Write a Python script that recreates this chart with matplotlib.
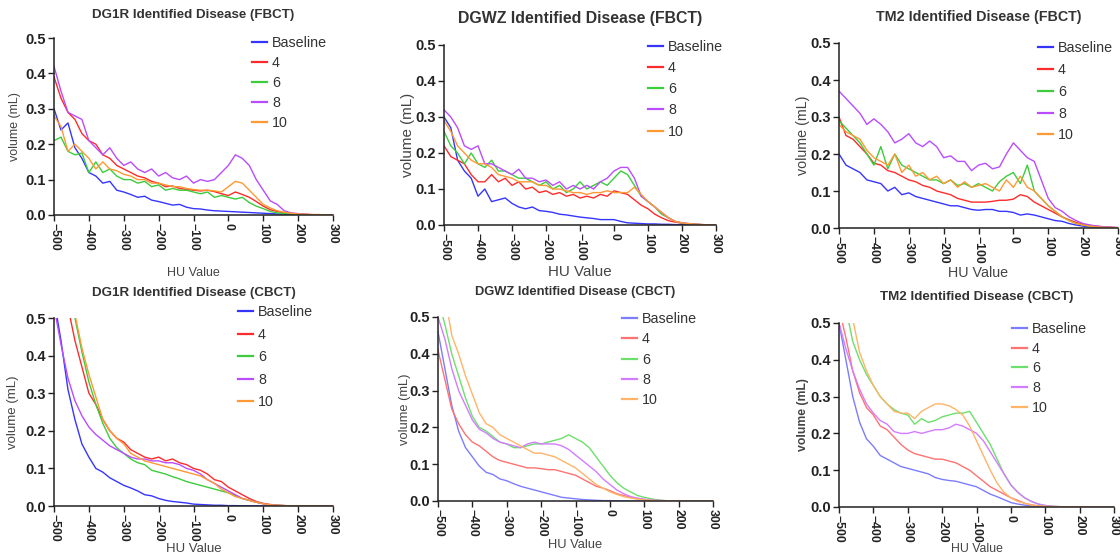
import matplotlib
matplotlib.use("Agg")
import matplotlib.pyplot as plt

plt.rcParams["font.family"] = ["Liberation Sans", "DejaVu Sans"]

# HU bins (20 HU step)
hu = list(range(-500, 301, 20))
series_names = ["Baseline", "4", "6", "8", "10"]

# ---- FBCT ----
dg1r_fbct = [
    [0.30, 0.24, 0.26, 0.19, 0.16, 0.12, 0.11, 0.09, 0.095, 0.07, 0.065, 0.058, 0.05, 0.053, 0.042, 0.038, 0.033, 0.028, 0.03, 0.022, 0.018, 0.017, 0.014, 0.012, 0.011, 0.010, 0.009, 0.008, 0.007, 0.006, 0.005, 0.004, 0.003, 0.002, 0.002, 0.001, 0.001, 0.0005, 0.0005, 0.0003, 0.0002],
    [0.39, 0.33, 0.29, 0.27, 0.23, 0.21, 0.20, 0.17, 0.16, 0.14, 0.13, 0.12, 0.11, 0.105, 0.095, 0.09, 0.08, 0.082, 0.075, 0.072, 0.07, 0.068, 0.07, 0.066, 0.06, 0.055, 0.065, 0.058, 0.05, 0.038, 0.025, 0.015, 0.01, 0.006, 0.004, 0.003, 0.002, 0.001, 0.001, 0.0005, 0.0003],
    [0.21, 0.22, 0.18, 0.17, 0.175, 0.12, 0.15, 0.12, 0.13, 0.11, 0.10, 0.10, 0.09, 0.095, 0.08, 0.085, 0.07, 0.075, 0.07, 0.07, 0.065, 0.06, 0.065, 0.05, 0.055, 0.05, 0.045, 0.05, 0.035, 0.025, 0.018, 0.01, 0.006, 0.004, 0.003, 0.002, 0.001, 0.001, 0.0005, 0.0003, 0.0002],
    [0.42, 0.35, 0.29, 0.28, 0.27, 0.21, 0.19, 0.17, 0.19, 0.16, 0.14, 0.15, 0.13, 0.12, 0.13, 0.11, 0.12, 0.105, 0.10, 0.11, 0.09, 0.10, 0.095, 0.10, 0.12, 0.14, 0.17, 0.16, 0.14, 0.10, 0.07, 0.04, 0.03, 0.012, 0.006, 0.004, 0.002, 0.001, 0.001, 0.0005, 0.0003],
    [0.28, 0.25, 0.18, 0.20, 0.18, 0.16, 0.13, 0.15, 0.13, 0.125, 0.115, 0.11, 0.10, 0.10, 0.09, 0.09, 0.085, 0.08, 0.08, 0.075, 0.072, 0.07, 0.07, 0.068, 0.065, 0.08, 0.095, 0.09, 0.07, 0.05, 0.03, 0.02, 0.012, 0.008, 0.005, 0.003, 0.002, 0.001, 0.001, 0.0005, 0.0003],
]
dgwz_fbct = [
    [0.30, 0.27, 0.18, 0.15, 0.13, 0.08, 0.10, 0.065, 0.07, 0.075, 0.06, 0.05, 0.045, 0.05, 0.04, 0.038, 0.035, 0.03, 0.028, 0.025, 0.022, 0.02, 0.018, 0.015, 0.015, 0.015, 0.01, 0.006, 0.005, 0.004, 0.003, 0.003, 0.002, 0.002, 0.001, 0.001, 0.001, 0.0005, 0.0005, 0.0003, 0.0002],
    [0.22, 0.19, 0.18, 0.17, 0.14, 0.12, 0.12, 0.14, 0.12, 0.13, 0.11, 0.12, 0.10, 0.105, 0.09, 0.095, 0.085, 0.09, 0.08, 0.085, 0.075, 0.08, 0.075, 0.085, 0.08, 0.095, 0.09, 0.085, 0.07, 0.055, 0.045, 0.03, 0.02, 0.012, 0.008, 0.005, 0.003, 0.002, 0.001, 0.0005, 0.0003],
    [0.26, 0.22, 0.20, 0.17, 0.20, 0.17, 0.16, 0.18, 0.15, 0.15, 0.14, 0.13, 0.13, 0.12, 0.11, 0.12, 0.10, 0.11, 0.09, 0.10, 0.12, 0.10, 0.11, 0.12, 0.11, 0.13, 0.15, 0.14, 0.11, 0.08, 0.065, 0.05, 0.03, 0.02, 0.01, 0.005, 0.003, 0.002, 0.001, 0.0005, 0.0003],
    [0.32, 0.30, 0.27, 0.22, 0.21, 0.22, 0.17, 0.17, 0.16, 0.15, 0.14, 0.155, 0.13, 0.13, 0.12, 0.125, 0.11, 0.12, 0.10, 0.11, 0.10, 0.11, 0.10, 0.12, 0.13, 0.15, 0.16, 0.16, 0.13, 0.08, 0.065, 0.05, 0.035, 0.02, 0.01, 0.006, 0.004, 0.002, 0.001, 0.0005, 0.0003],
    [0.29, 0.26, 0.22, 0.20, 0.18, 0.17, 0.17, 0.16, 0.14, 0.135, 0.13, 0.12, 0.12, 0.12, 0.11, 0.11, 0.10, 0.10, 0.095, 0.09, 0.09, 0.085, 0.09, 0.09, 0.095, 0.09, 0.09, 0.09, 0.105, 0.085, 0.065, 0.05, 0.035, 0.02, 0.01, 0.006, 0.004, 0.002, 0.001, 0.0005, 0.0003],
]
tm2_fbct = [
    [0.20, 0.17, 0.16, 0.15, 0.13, 0.125, 0.12, 0.10, 0.11, 0.09, 0.095, 0.085, 0.08, 0.075, 0.07, 0.065, 0.06, 0.06, 0.055, 0.05, 0.048, 0.05, 0.05, 0.045, 0.045, 0.042, 0.035, 0.038, 0.035, 0.03, 0.025, 0.02, 0.018, 0.012, 0.008, 0.005, 0.003, 0.002, 0.001, 0.0005, 0.0003],
    [0.30, 0.25, 0.24, 0.22, 0.20, 0.175, 0.17, 0.155, 0.15, 0.14, 0.13, 0.125, 0.115, 0.11, 0.10, 0.095, 0.09, 0.08, 0.075, 0.07, 0.07, 0.07, 0.072, 0.075, 0.075, 0.078, 0.09, 0.085, 0.07, 0.06, 0.05, 0.04, 0.03, 0.022, 0.015, 0.01, 0.007, 0.005, 0.003, 0.002, 0.001],
    [0.29, 0.27, 0.25, 0.23, 0.20, 0.17, 0.22, 0.16, 0.20, 0.17, 0.16, 0.15, 0.14, 0.13, 0.13, 0.12, 0.13, 0.115, 0.12, 0.11, 0.12, 0.11, 0.10, 0.125, 0.14, 0.15, 0.12, 0.17, 0.10, 0.08, 0.06, 0.045, 0.03, 0.02, 0.012, 0.008, 0.005, 0.003, 0.002, 0.001, 0.0005],
    [0.37, 0.35, 0.33, 0.31, 0.28, 0.295, 0.28, 0.26, 0.23, 0.24, 0.255, 0.23, 0.22, 0.235, 0.22, 0.19, 0.195, 0.18, 0.18, 0.155, 0.17, 0.175, 0.16, 0.165, 0.20, 0.23, 0.21, 0.19, 0.18, 0.13, 0.08, 0.055, 0.045, 0.03, 0.02, 0.012, 0.008, 0.005, 0.003, 0.002, 0.001],
    [0.28, 0.26, 0.25, 0.24, 0.21, 0.19, 0.18, 0.17, 0.20, 0.15, 0.17, 0.14, 0.15, 0.13, 0.14, 0.12, 0.13, 0.11, 0.125, 0.11, 0.115, 0.12, 0.11, 0.10, 0.13, 0.11, 0.14, 0.11, 0.10, 0.08, 0.06, 0.045, 0.03, 0.02, 0.012, 0.008, 0.005, 0.003, 0.002, 0.001, 0.0005],
]

# ---- CBCT ----
dg1r_cbct = [
    [0.55, 0.44, 0.31, 0.23, 0.165, 0.13, 0.10, 0.09, 0.075, 0.065, 0.055, 0.048, 0.04, 0.03, 0.027, 0.02, 0.015, 0.012, 0.01, 0.008, 0.005, 0.004, 0.003, 0.002, 0.002, 0.001, 0.001, 0.0005, 0.0005, 0.0003, 0.0002, 0.0001, 0, 0, 0, 0, 0, 0, 0, 0, 0],
    [0.75, 0.62, 0.53, 0.44, 0.37, 0.30, 0.27, 0.23, 0.20, 0.18, 0.17, 0.15, 0.14, 0.13, 0.125, 0.13, 0.12, 0.125, 0.115, 0.11, 0.10, 0.095, 0.085, 0.07, 0.065, 0.05, 0.04, 0.03, 0.02, 0.012, 0.007, 0.004, 0.002, 0.001, 0.0005, 0.0003, 0.0002, 0.0001, 0, 0, 0],
    [0.80, 0.68, 0.58, 0.50, 0.41, 0.33, 0.27, 0.22, 0.18, 0.155, 0.14, 0.125, 0.115, 0.11, 0.095, 0.09, 0.085, 0.078, 0.072, 0.065, 0.06, 0.055, 0.05, 0.045, 0.04, 0.035, 0.028, 0.02, 0.015, 0.01, 0.006, 0.003, 0.002, 0.001, 0.0005, 0.0003, 0.0002, 0.0001, 0, 0, 0],
    [0.53, 0.43, 0.34, 0.28, 0.24, 0.21, 0.19, 0.175, 0.16, 0.15, 0.14, 0.13, 0.125, 0.125, 0.12, 0.12, 0.115, 0.115, 0.11, 0.10, 0.095, 0.085, 0.07, 0.06, 0.05, 0.04, 0.03, 0.02, 0.015, 0.01, 0.006, 0.003, 0.002, 0.001, 0.0005, 0.0003, 0.0002, 0.0001, 0, 0, 0],
    [0.82, 0.70, 0.60, 0.51, 0.42, 0.35, 0.29, 0.23, 0.20, 0.18, 0.165, 0.14, 0.13, 0.12, 0.115, 0.11, 0.105, 0.10, 0.095, 0.09, 0.085, 0.08, 0.07, 0.06, 0.045, 0.035, 0.025, 0.02, 0.015, 0.01, 0.006, 0.003, 0.002, 0.001, 0.0005, 0.0003, 0.0002, 0.0001, 0, 0, 0],
]
dgwz_cbct = [
    [0.46, 0.36, 0.26, 0.19, 0.145, 0.12, 0.095, 0.078, 0.072, 0.06, 0.055, 0.047, 0.04, 0.035, 0.03, 0.025, 0.02, 0.015, 0.01, 0.008, 0.006, 0.004, 0.003, 0.002, 0.001, 0.001, 0.0005, 0.0003, 0.0002, 0.0001, 0, 0, 0, 0, 0, 0, 0, 0, 0, 0, 0],
    [0.41, 0.33, 0.25, 0.21, 0.18, 0.16, 0.15, 0.135, 0.12, 0.11, 0.105, 0.10, 0.095, 0.09, 0.09, 0.088, 0.085, 0.085, 0.08, 0.075, 0.07, 0.06, 0.05, 0.04, 0.035, 0.028, 0.02, 0.015, 0.01, 0.006, 0.004, 0.002, 0.001, 0.0005, 0.0003, 0.0002, 0.0001, 0, 0, 0, 0],
    [0.55, 0.48, 0.40, 0.34, 0.28, 0.23, 0.20, 0.19, 0.175, 0.16, 0.155, 0.145, 0.145, 0.15, 0.155, 0.155, 0.16, 0.165, 0.17, 0.18, 0.17, 0.16, 0.145, 0.12, 0.095, 0.07, 0.05, 0.035, 0.025, 0.015, 0.01, 0.006, 0.003, 0.001, 0.0005, 0.0003, 0.0002, 0.0001, 0, 0, 0],
    [0.50, 0.44, 0.36, 0.30, 0.26, 0.22, 0.195, 0.185, 0.17, 0.16, 0.155, 0.15, 0.145, 0.155, 0.16, 0.155, 0.155, 0.155, 0.15, 0.14, 0.125, 0.11, 0.095, 0.08, 0.06, 0.045, 0.03, 0.02, 0.012, 0.008, 0.005, 0.003, 0.002, 0.001, 0.0005, 0.0003, 0.0002, 0.0001, 0, 0, 0],
    [0.66, 0.56, 0.45, 0.40, 0.34, 0.29, 0.24, 0.21, 0.20, 0.18, 0.17, 0.16, 0.15, 0.14, 0.13, 0.13, 0.125, 0.12, 0.11, 0.10, 0.09, 0.075, 0.06, 0.045, 0.035, 0.025, 0.018, 0.012, 0.008, 0.005, 0.003, 0.002, 0.001, 0.0005, 0.0003, 0.0002, 0.0001, 0, 0, 0, 0],
]
tm2_cbct = [
    [0.50, 0.40, 0.30, 0.23, 0.185, 0.165, 0.14, 0.13, 0.12, 0.11, 0.105, 0.10, 0.095, 0.09, 0.08, 0.075, 0.072, 0.07, 0.065, 0.06, 0.055, 0.045, 0.035, 0.028, 0.02, 0.012, 0.008, 0.005, 0.003, 0.002, 0.001, 0.0005, 0.0003, 0.0002, 0.0001, 0, 0, 0, 0, 0, 0],
    [0.54, 0.46, 0.37, 0.31, 0.27, 0.25, 0.22, 0.21, 0.19, 0.17, 0.155, 0.145, 0.14, 0.135, 0.13, 0.13, 0.125, 0.12, 0.11, 0.10, 0.085, 0.07, 0.055, 0.045, 0.035, 0.025, 0.018, 0.01, 0.006, 0.003, 0.002, 0.001, 0.0005, 0.0003, 0.0002, 0.0001, 0, 0, 0, 0, 0],
    [0.62, 0.54, 0.45, 0.40, 0.36, 0.33, 0.30, 0.28, 0.265, 0.255, 0.25, 0.225, 0.24, 0.23, 0.235, 0.245, 0.25, 0.255, 0.255, 0.26, 0.23, 0.20, 0.17, 0.13, 0.09, 0.06, 0.04, 0.025, 0.015, 0.008, 0.004, 0.002, 0.001, 0.0005, 0.0003, 0.0002, 0.0001, 0, 0, 0, 0],
    [0.50, 0.43, 0.37, 0.32, 0.28, 0.255, 0.235, 0.225, 0.205, 0.20, 0.20, 0.205, 0.20, 0.205, 0.21, 0.21, 0.215, 0.225, 0.22, 0.21, 0.20, 0.18, 0.15, 0.12, 0.09, 0.06, 0.04, 0.025, 0.015, 0.008, 0.004, 0.002, 0.001, 0.0005, 0.0003, 0.0002, 0.0001, 0, 0, 0, 0],
    [0.68, 0.59, 0.51, 0.42, 0.37, 0.33, 0.30, 0.28, 0.26, 0.255, 0.255, 0.24, 0.26, 0.27, 0.28, 0.28, 0.275, 0.265, 0.25, 0.22, 0.18, 0.14, 0.10, 0.065, 0.04, 0.025, 0.015, 0.01, 0.005, 0.003, 0.002, 0.001, 0.0005, 0.0003, 0.0002, 0.0001, 0, 0, 0, 0, 0],
]

strong = ["#3535ff", "#ff2b2b", "#3ccc3c", "#b94cff", "#ff9933"]
pale = ["#7c7cff", "#ff7272", "#6ddf6d", "#d47cff", "#ffb468"]

# (title, data, colours, axes px [left, top, right, bottom], title fs, label fs, ylabel bold,
#  xlabel centre y px, ylabel centre x px, legend [x px, top px], legend spacing, title y px)
panels = [
    ("DG1R Identified Disease (FBCT)", dg1r_fbct, strong, (54, 38, 333, 215), 9.6, 9.0, False, 273, 15, (252, 36), 0.42, 15),
    ("DGWZ Identified Disease (FBCT)", dgwz_fbct, strong, (444, 45, 716, 225), 11.4, 10.9, False, 272, 408, (648, 40), 0.50, 18),
    ("TM2 Identified Disease (FBCT)", tm2_fbct, strong, (839, 43, 1118, 228), 10.3, 10.3, False, 273, 803, (1038, 41), 0.55, 17),
    ("DG1R Identified Disease (CBCT)", dg1r_cbct, strong, (54, 318, 333, 506), 9.6, 9.5, False, 549, 13, (238, 305), 0.60, 293),
    ("DGWZ Identified Disease (CBCT)", dgwz_cbct, pale, (438, 317, 713, 501), 9.3, 9.3, False, 545, 405, (622, 312), 0.44, 292),
    ("TM2 Identified Disease (CBCT)", tm2_cbct, pale, (839, 323, 1114, 507), 9.6, 8.8, True, 549, 803, (1012, 322), 0.40, 297),
]

W, H = 1120, 558
fig = plt.figure(figsize=(W / 100, H / 100), dpi=100)
text_col = "#333333"

for title, data, cols, (l, t, r, b), tfs, lfs, ybold, xl_y, yl_x, (lgx, lgy), lsp, ty in panels:
    ax = fig.add_axes([l / W, 1 - b / H, (r - l) / W, (b - t) / H])
    for vals, name, c in zip(data, series_names, cols):
        ax.plot(hu, vals, color=c, lw=1.0, label=name)
    ax.set_xlim(-500, 300)
    ax.set_ylim(0, 0.5)
    ax.set_xticks(range(-500, 301, 100))
    ax.set_yticks([0.0, 0.1, 0.2, 0.3, 0.4, 0.5])
    ax.set_yticklabels([f"{v:.1f}" for v in ax.get_yticks()])
    for s in ("top", "right"):
        ax.spines[s].set_visible(False)
    for s in ("left", "bottom"):
        ax.spines[s].set_linewidth(1.1)
        ax.spines[s].set_color("#222222")
    ax.tick_params(direction="out", length=4, width=1.0, color="#222222", pad=2)
    for lab in ax.get_xticklabels():
        lab.set_rotation(270)
        lab.set_fontweight("bold")
        lab.set_fontsize(8.8)
        lab.set_color("#222222")
    for lab in ax.get_yticklabels():
        lab.set_fontweight("bold")
        lab.set_fontsize(10.5)
        lab.set_color("#222222")

    fig.text(((l + r) / 2) / W, 1 - ty / H, title, ha="center", va="center",
             fontsize=tfs, fontweight="bold", color=text_col)
    ax.set_xlabel("HU Value", fontsize=lfs, color="#444444")
    ax.xaxis.set_label_coords(0.5, (b - xl_y) / (b - t))
    ax.xaxis.label.set_va("center")
    ax.set_ylabel("volume (mL)", fontsize=lfs, color="#444444",
                  fontweight="bold" if ybold else "normal")
    ax.yaxis.set_label_coords((yl_x - l) / (r - l), 0.5)
    ax.yaxis.label.set_va("center")

    leg = ax.legend(loc="upper left", bbox_to_anchor=(lgx / W, 1 - lgy / H),
                    bbox_transform=fig.transFigure, frameon=False, fontsize=10.3,
                    borderpad=0, borderaxespad=0, handlelength=1.05, handletextpad=0.35,
                    labelspacing=lsp, labelcolor="#333333")
    for h in leg.get_lines():
        h.set_linewidth(1.6)

fig.savefig("out.png", dpi=100)
